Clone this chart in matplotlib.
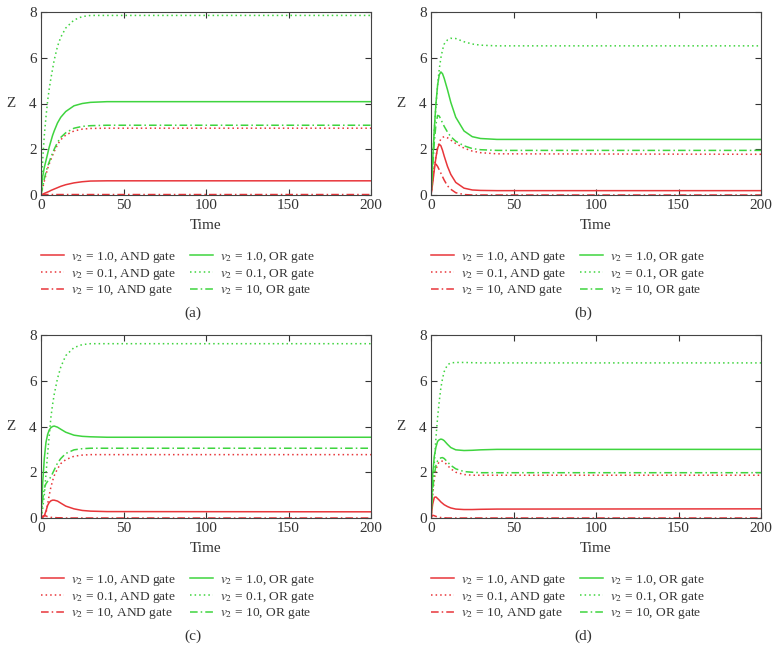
import matplotlib
matplotlib.use("Agg")
import matplotlib.pyplot as plt

plt.rcParams['font.family'] = ['Liberation Serif', 'DejaVu Serif']
plt.rcParams['mathtext.fontset'] = 'stix'

time = [0, 1, 2, 3, 4, 5, 6, 7, 8, 10, 12, 15, 20, 25, 30, 40, 200]

# Panel (a)
a_and_1 = [0, 0.03, 0.07, 0.1, 0.13, 0.16, 0.2, 0.23, 0.26, 0.32, 0.38, 0.45, 0.53, 0.58, 0.61, 0.62, 0.62]
a_and_01 = [0, 0.3, 0.6, 0.88, 1.15, 1.36, 1.55, 1.73, 1.9, 2.2, 2.42, 2.62, 2.8, 2.88, 2.91, 2.92, 2.92]
a_and_10 = [0, 0.02, 0.02, 0.02, 0.02, 0.02, 0.02, 0.02, 0.02, 0.02, 0.02, 0.02, 0.02, 0.02, 0.02, 0.02, 0.02]
a_or_1 = [0, 0.8, 1.2, 1.5, 1.8, 2.1, 2.35, 2.6, 2.8, 3.15, 3.4, 3.65, 3.9, 4.0, 4.05, 4.08, 4.08]
a_or_01 = [0, 1.5, 2.6, 3.4, 4.1, 4.65, 5.1, 5.5, 5.9, 6.5, 6.9, 7.3, 7.65, 7.8, 7.85, 7.85, 7.85]
a_or_10 = [0, 0.35, 0.7, 1.0, 1.25, 1.45, 1.65, 1.83, 2.0, 2.3, 2.52, 2.72, 2.92, 3.0, 3.03, 3.05, 3.05]

# Panel (b)
b_and_1 = [0, 0.5, 1.1, 1.65, 2.05, 2.22, 2.15, 1.95, 1.7, 1.25, 0.9, 0.55, 0.3, 0.22, 0.2, 0.19, 0.19]
b_and_01 = [0, 0.6, 1.2, 1.7, 2.05, 2.3, 2.45, 2.52, 2.55, 2.5, 2.4, 2.25, 2.05, 1.92, 1.85, 1.8, 1.78]
b_and_10 = [0, 0.8, 1.25, 1.35, 1.25, 1.1, 0.95, 0.8, 0.65, 0.4, 0.25, 0.1, 0.02, 0, 0, 0, 0]
b_or_1 = [0, 1.5, 2.9, 4.0, 4.8, 5.25, 5.38, 5.3, 5.1, 4.6, 4.05, 3.4, 2.8, 2.55, 2.47, 2.43, 2.43]
b_or_01 = [0, 1.5, 2.8, 3.9, 4.8, 5.5, 6.0, 6.35, 6.6, 6.78, 6.85, 6.84, 6.7, 6.6, 6.55, 6.52, 6.52]
b_or_10 = [0, 1.2, 2.3, 3.1, 3.48, 3.45, 3.3, 3.15, 3.0, 2.75, 2.55, 2.35, 2.15, 2.03, 1.98, 1.95, 1.95]

# Panel (c)
c_and_1 = [0, 0.02, 0.1, 0.3, 0.55, 0.68, 0.75, 0.78, 0.78, 0.74, 0.65, 0.52, 0.4, 0.33, 0.3, 0.28, 0.27]
c_and_01 = [0, 0.01, 0.05, 0.2, 0.6, 1.0, 1.35, 1.62, 1.85, 2.15, 2.38, 2.55, 2.7, 2.75, 2.77, 2.77, 2.77]
c_and_10 = [0, 0.08, 0.1, 0.09, 0.06, 0.05, 0.03, 0.02, 0.02, 0.01, 0.01, 0, 0, 0, 0, 0, 0]
c_or_1 = [0, 1.5, 2.6, 3.3, 3.65, 3.85, 3.95, 4.0, 4.02, 3.97, 3.88, 3.75, 3.62, 3.57, 3.55, 3.53, 3.53]
c_or_01 = [0, 0.4, 1.0, 1.9, 2.8, 3.6, 4.4, 4.95, 5.4, 6.1, 6.6, 7.1, 7.45, 7.58, 7.62, 7.62, 7.62]
c_or_10 = [0, 0.8, 1.3, 1.5, 1.6, 1.7, 1.8, 1.95, 2.1, 2.4, 2.6, 2.82, 2.98, 3.03, 3.05, 3.05, 3.05]

# Panel (d)
d_and_1 = [0, 0.6, 0.9, 0.92, 0.85, 0.78, 0.7, 0.64, 0.58, 0.5, 0.44, 0.39, 0.37, 0.37, 0.38, 0.39, 0.4]
d_and_01 = [0, 1.0, 1.7, 2.1, 2.35, 2.45, 2.5, 2.48, 2.45, 2.3, 2.15, 2.0, 1.9, 1.87, 1.87, 1.87, 1.87]
d_and_10 = [0, 0.12, 0.1, 0.07, 0.05, 0.03, 0.02, 0.01, 0.01, 0, 0, 0, 0, 0, 0, 0, 0]
d_or_1 = [0, 1.9, 2.7, 3.1, 3.35, 3.42, 3.45, 3.43, 3.38, 3.22, 3.08, 2.98, 2.95, 2.96, 2.98, 3.0, 3.0]
d_or_01 = [0, 1.2, 2.4, 3.5, 4.4, 5.1, 5.7, 6.1, 6.4, 6.7, 6.78, 6.8, 6.8, 6.79, 6.78, 6.78, 6.78]
d_or_10 = [0, 1.2, 1.9, 2.3, 2.5, 2.58, 2.63, 2.64, 2.6, 2.45, 2.3, 2.15, 2.03, 2.0, 1.98, 1.98, 1.98]

labels = [r"$v_2$ = 1.0, AND gate", r"$v_2$ = 0.1, AND gate", r"$v_2$ = 10, AND gate",
          r"$v_2$ = 1.0, OR gate", r"$v_2$ = 0.1, OR gate", r"$v_2$ = 10, OR gate"]
captions = ["(a)", "(b)", "(c)", "(d)"]
xticks = [0, 50, 100, 150, 200]
yticks = [0, 2, 4, 6, 8]

panels = [
    [a_and_1, a_and_01, a_and_10, a_or_1, a_or_01, a_or_10],
    [b_and_1, b_and_01, b_and_10, b_or_1, b_or_01, b_or_10],
    [c_and_1, c_and_01, c_and_10, c_or_1, c_or_01, c_or_10],
    [d_and_1, d_and_01, d_and_10, d_or_1, d_or_01, d_or_10],
]

RED = '#e8363a'
GREEN = '#3fd43f'
colors = [RED, RED, RED, GREEN, GREEN, GREEN]
styles = ['-', (0, (1, 2)), (0, (5, 2, 1, 2)), '-', (0, (1, 2)), (0, (5, 2, 1, 2))]

W, H = 779, 663
fig = plt.figure(figsize=(W / 100, H / 100), dpi=100)

# pixel geometry: (left, top) of each axes
origins = [(41, 12), (431, 12), (41, 335), (431, 335)]
aw, ah = 330, 183

for i, (ox, oy) in enumerate(origins):
    ax = fig.add_axes([ox / W, 1 - (oy + ah) / H, aw / W, ah / H])
    lines = []
    for s, c, ls in zip(panels[i], colors, styles):
        ln, = ax.plot(time, s, color=c, linestyle=ls, lw=1.1)
        lines.append(ln)
    ax.set_xlim(0, 200)
    ax.set_ylim(0, 8)
    ax.set_xticks(xticks)
    ax.set_yticks(yticks)
    ax.tick_params(direction='in', top=True, right=True, length=4, width=0.8,
                   labelsize=11, colors='#333333', labelcolor='#333333', pad=3)
    for sp in ax.spines.values():
        sp.set_color('#444444')
        sp.set_linewidth(0.8)
    ax.set_xlabel("Time", fontsize=11, color='#333333', labelpad=5)
    ax.set_ylabel("Z", fontsize=11, color='#333333', rotation=0, labelpad=13, va='center')
    # legend
    lx = ox / W
    ly = 1 - (oy + ah + 55) / H
    fig.legend(lines, labels, loc='upper left', bbox_to_anchor=(lx, ly), ncol=2,
               frameon=False, fontsize=9.6, handlelength=1.75, handletextpad=0.5,
               columnspacing=1.05, labelspacing=0.12, borderpad=0, borderaxespad=0,
               labelcolor='#333333')
    fig.text((ox + 152) / W, 1 - (oy + 301) / H, captions[i], ha='center', va='center',
             fontsize=11, color='#333333')

fig.savefig("out.png", dpi=100)
